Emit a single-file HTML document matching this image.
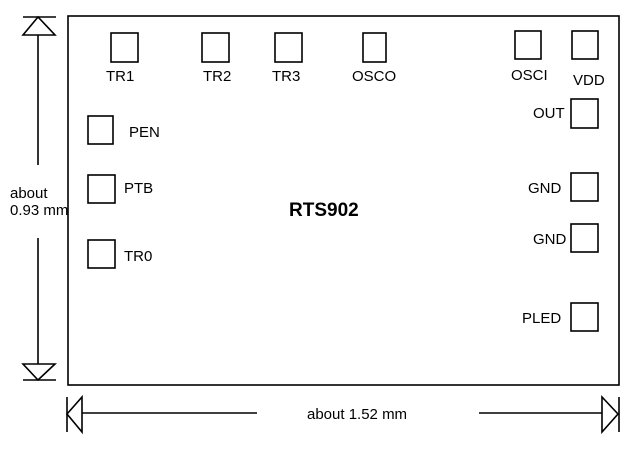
<!DOCTYPE html>
<html><head><meta charset="utf-8"><style>
html,body{margin:0;padding:0;background:#fff;}
svg{display:block;}
text{font-family:"Liberation Sans",Arial,sans-serif;font-size:15px;fill:#000;}
</style></head><body>
<svg width="640" height="453" viewBox="0 0 640 453" xmlns="http://www.w3.org/2000/svg">
<g fill="none" stroke="#000" stroke-width="1.6">
<rect x="68" y="16" width="551" height="369"/>
<line x1="23" y1="17" x2="56" y2="17"/>
<polygon points="38,17 23,35 55,35"/>
<line x1="38" y1="35" x2="38" y2="165"/>
<line x1="38" y1="238" x2="38" y2="364"/>
<polygon points="23,364 55,364 38,380"/>
<line x1="23" y1="380" x2="56" y2="380"/>
<line x1="67" y1="397" x2="67" y2="432"/>
<polygon points="67,414 82,397 82,432"/>
<line x1="82" y1="413" x2="257" y2="413"/>
<line x1="479" y1="413" x2="602" y2="413"/>
<polygon points="602,397 602,432 618,414"/>
<line x1="619" y1="397" x2="619" y2="432"/>
<rect x="111" y="33" width="27" height="29"/>
<rect x="202" y="33" width="27" height="29"/>
<rect x="275" y="33" width="27" height="29"/>
<rect x="363" y="33" width="23" height="29"/>
<rect x="515" y="31" width="26" height="28"/>
<rect x="572" y="31" width="26" height="28"/>
<rect x="571" y="99" width="27" height="29"/>
<rect x="571" y="173" width="27" height="28"/>
<rect x="571" y="224" width="27" height="28"/>
<rect x="571" y="303" width="27" height="28"/>
<rect x="88" y="116" width="25" height="28"/>
<rect x="88" y="175" width="27" height="28"/>
<rect x="88" y="240" width="27" height="28"/>
</g>
<text x="106" y="81">TR1</text>
<text x="203" y="81">TR2</text>
<text x="272" y="81">TR3</text>
<text x="352" y="81">OSCO</text>
<text x="511" y="80">OSCI</text>
<text x="573" y="85">VDD</text>
<text x="533" y="118">OUT</text>
<text x="528" y="193">GND</text>
<text x="533" y="244">GND</text>
<text x="522" y="323">PLED</text>
<text x="129" y="137">PEN</text>
<text x="124" y="193">PTB</text>
<text x="124" y="261">TR0</text>
<text x="289" y="216" style="font-size:19px;font-weight:bold">RTS902</text>
<text x="10" y="198">about</text>
<text x="10" y="215">0.93 mm</text>
<text x="307" y="419">about 1.52 mm</text>
</svg>
</body></html>
